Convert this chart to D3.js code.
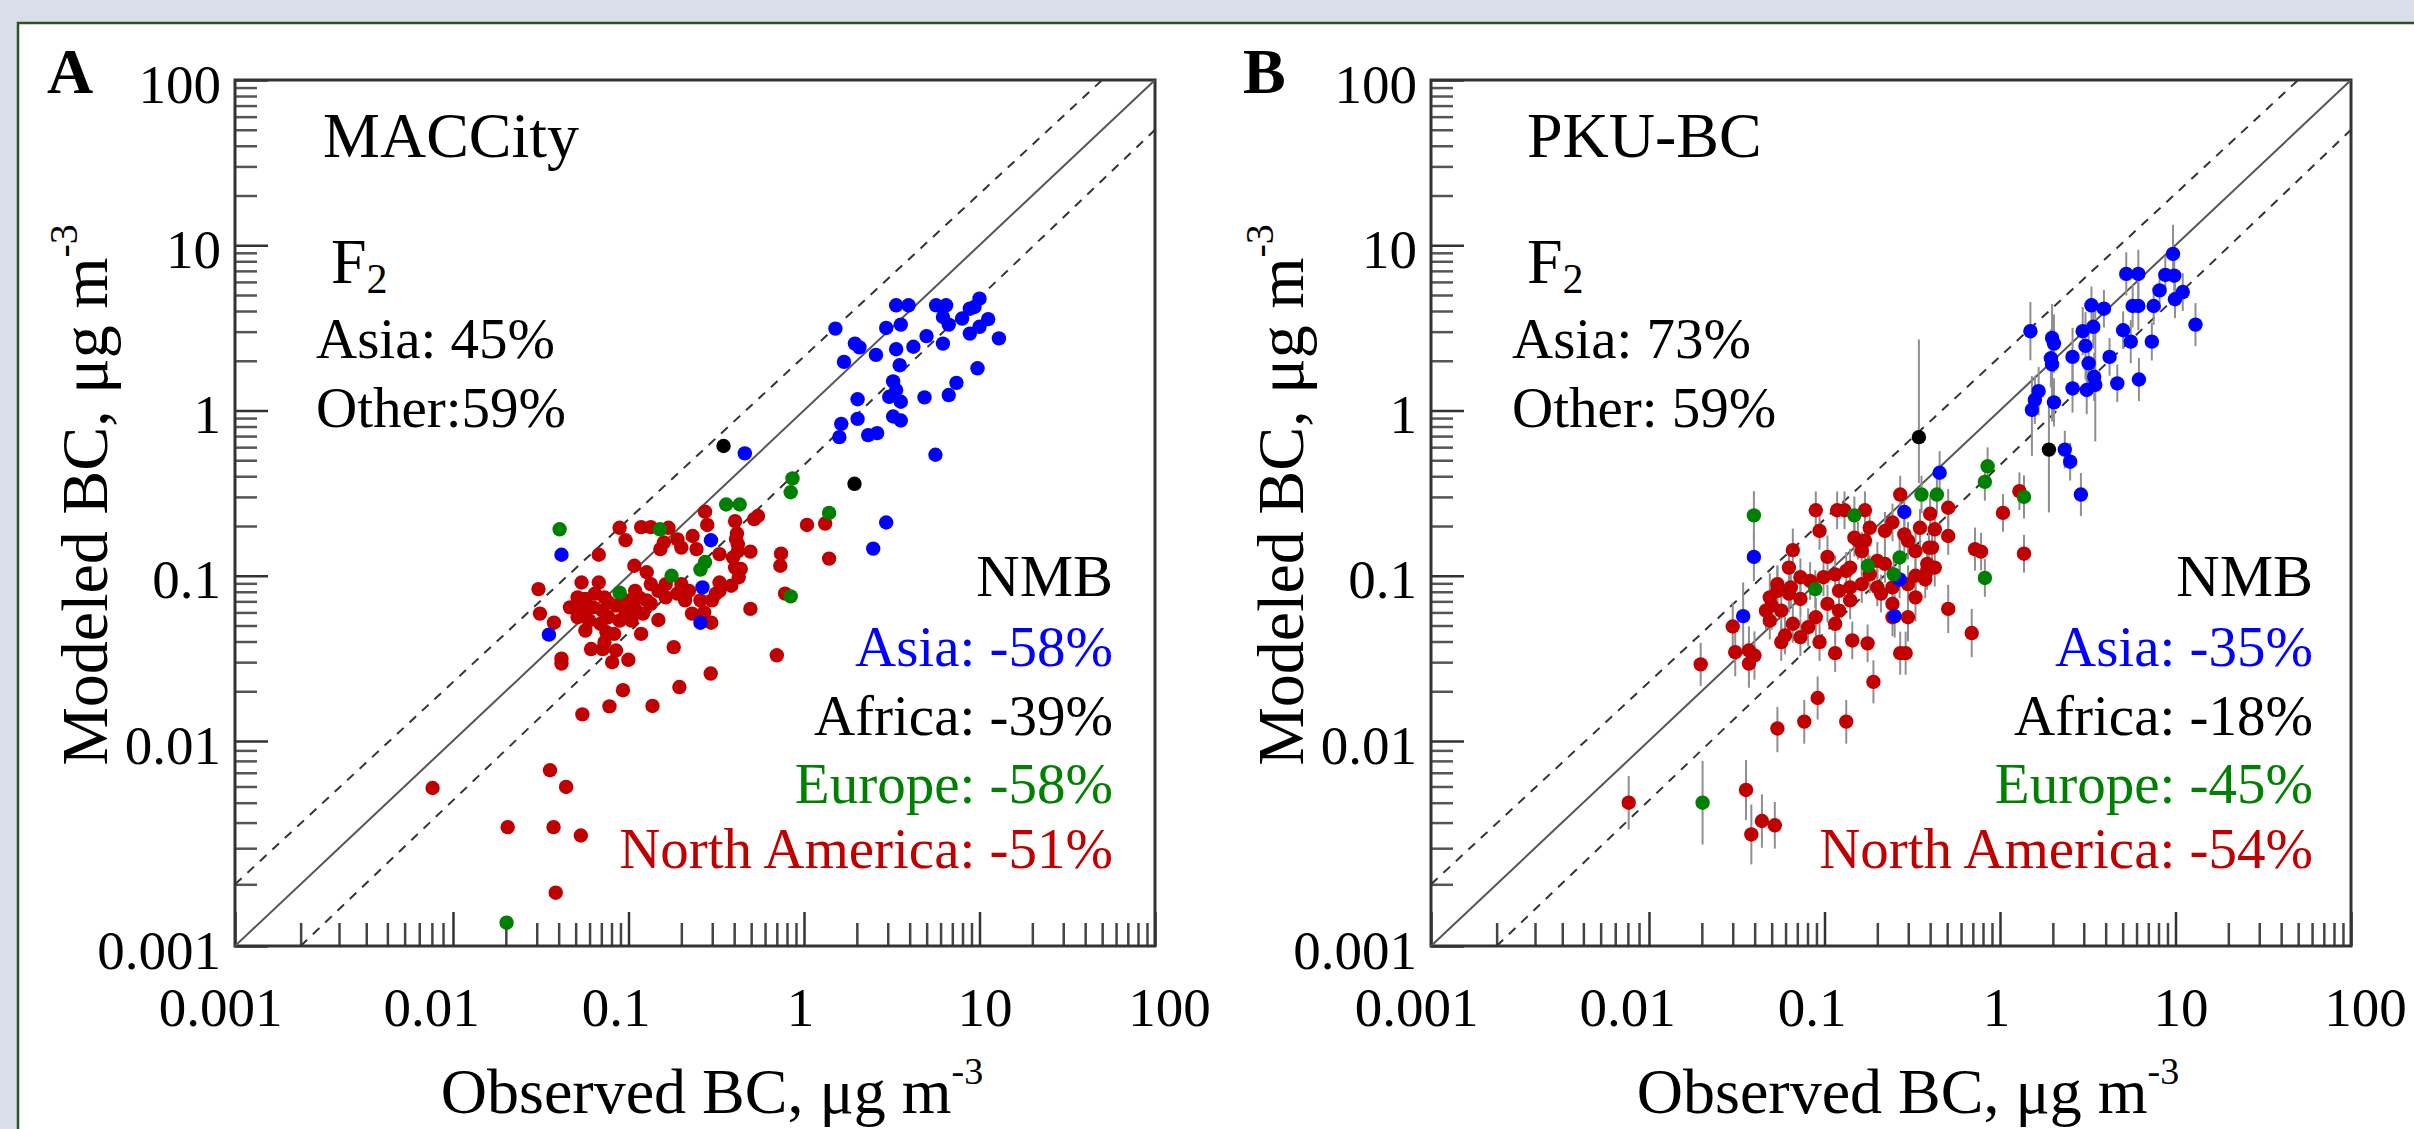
<!DOCTYPE html>
<html>
<head>
<meta charset="utf-8">
<script src="https://d3js.org/d3.v7.min.js"></script>
<style>
body { margin: 0; background: #d9dee8; }
svg { display: block; font-family: "Liberation Serif", "Times New Roman", serif; }
</style>
</head>
<body>
<svg id="chart" width="2414" height="1129"></svg>
<script>
// axis ticks and labels
var decadeTicks = [0.001, 0.01, 0.1, 1, 10, 100];
var decadeLabels = ["0.001", "0.01", "0.1", "1", "10", "100"];

// panel texts
var panelLetters = ["A", "B"];
var inventories = ["MACCity", "PKU-BC"];
var f2Asia = ["Asia: 45%", "Asia: 73%"];
var f2Other = ["Other:59%", "Other: 59%"];
var nmbRegions = ["Asia", "Africa", "Europe", "North America"];
var nmbA = [-58, -39, -58, -51];
var nmbB = [-35, -18, -45, -54];

// panel A: [observed, modeled]
var asiaA = [[1.51,3.13],[1.69,1.97],[1.95,2.54],[2.07,2.41],[2.57,2.17],[2.94,3.16],[3.35,4.33],[3.94,4.33],
  [3.56,3.31],[3.35,2.35],[3.51,1.88],[4.20,2.43],[4.99,2.82],[5.66,4.33],[6.45,4.33],[6.19,3.68],[6.68,3.31],
  [6.19,2.54],[7.96,3.60],[8.81,4.13],[10.0,4.75],[9.36,4.23],[11.2,3.57],[8.81,2.92],[10.0,3.21],[12.9,2.73],
  [9.74,1.80],[7.39,1.47],[6.68,1.24],[4.86,1.20],[3.22,1.50],[3.35,1.33],[3.06,1.21],[3.56,1.13],[2.02,1.17],
  [2.02,0.89],[1.63,0.83],[1.59,0.69],[2.32,0.71],[2.61,0.73],[3.22,0.92],[3.56,0.87],[5.61,0.54],[0.46,0.55],
  [2.94,0.21],[2.48,0.146],[0.295,0.164],[0.264,0.085],[0.257,0.052],[0.0415,0.134],[0.0352,0.044]];
var africaA = [[0.348,0.61],[1.94,0.36]];
var europeA = [[0.86,0.388],[0.84,0.32],[0.36,0.27],[0.43,0.27],[1.39,0.24],[0.0405,0.191],[0.151,0.191],
  [0.273,0.121],[0.257,0.109],[0.176,0.100],[0.089,0.079],[0.84,0.075],[0.0202,0.0013]];
var northAmericaA = [[0.273,0.244],[0.281,0.203],[0.405,0.214],[0.52,0.22],[0.547,0.23],[1.04,0.203],[1.32,0.207],
  [1.39,0.127],[0.74,0.136],[0.733,0.115],[0.78,0.078],[0.495,0.14],[0.495,0.063],[0.70,0.033],[0.415,0.18],
  [0.42,0.155],[0.436,0.11],[0.089,0.195],[0.0962,0.164],[0.118,0.197],[0.134,0.197],[0.169,0.195],[0.0677,0.134],
  [0.0307,0.083],[0.0313,0.059],[0.0376,0.052],[0.0415,0.0315],[0.0415,0.0294],[0.0546,0.0145],[0.0779,0.0162],
  [0.093,0.0203],[0.137,0.0163],[0.195,0.0212],[0.294,0.0256],[0.181,0.037],[0.0998,0.031],[0.0807,0.030],
  [0.0612,0.036],[0.0712,0.036],[0.0849,0.0353],[0.118,0.0445],[0.148,0.054],[0.108,0.115],[0.127,0.105],
  [0.152,0.145],[0.159,0.159],[0.19,0.166],[0.232,0.174],[0.244,0.145],[0.2,0.148],[0.33,0.135],[0.394,0.129],
  [0.405,0.112],[0.425,0.098],[0.385,0.087],[0.33,0.091],[0.315,0.078],[0.299,0.071],[0.23,0.059],[0.296,0.052],
  [0.221,0.081],[0.2,0.089],[0.163,0.089],[0.148,0.081],[0.134,0.089],[0.109,0.081],[0.127,0.071],[0.109,0.063],
  [0.0962,0.059],[0.0849,0.066],[0.073,0.074],[0.0677,0.091],[0.054,0.091],[0.0513,0.074],[0.0488,0.0644],
  [0.0553,0.0615],[0.0628,0.0644],[0.0597,0.0535],[0.0694,0.0512],[0.0749,0.0455],[0.073,0.0397],[0.0768,0.0561],
  [0.089,0.0535],[0.104,0.0535],[0.121,0.059],[0.134,0.0676],[0.163,0.074],[0.19,0.078],[0.21,0.071],[0.257,0.071],
  [0.27,0.060],[0.33,0.081],[0.0828,0.0445],[0.0357,0.0072],[0.0441,0.00597],[0.0205,0.0038],[0.0374,0.0038],
  [0.0535,0.00346],[0.0385,0.00182],[0.00806,0.0059],[0.41,0.167],[0.42,0.141],
  [0.0464,0.0644],[0.0568,0.0724],[0.0644,0.078],[0.0768,0.069],[0.0962,0.071],[0.115,0.074],[0.104,0.0676],
  [0.0513,0.0561],[0.0712,0.0615],[0.0568,0.0466]];

// panel B: [observed, modeled, error factor up, error factor down (optional)]
var asiaB = [[9.68,8.87,1.5],[5.24,6.71,1.35],[6.14,6.71,1.4],[8.75,6.62,1.3],[9.84,6.55,1.3],[8.11,5.33,1.3],
  [11.0,5.21,1.3],[9.93,4.71,1.3],[3.32,4.33,1.3],[3.91,4.13,1.3],[5.70,4.29,1.35],[6.14,4.29,1.4],[7.51,4.29,1.3],
  [1.49,3.02,1.5],[2.96,3.02,1.4],[3.40,3.21,1.35],[1.98,2.75,1.6,3.2],[2.03,2.54,1.5],[5.03,3.06,1.3],
  [5.56,2.61,1.35],[7.33,2.61,1.3],[13.0,3.31,1.35],[3.07,2.46,1.6],[2.59,2.11,1.5],[1.95,2.07,1.5],[1.98,1.90,1.5],
  [3.20,1.93,1.5],[4.21,2.11,1.3],[3.44,1.60,1.4],[3.49,1.43,2.9,2.2],[3.12,1.33,1.4],[2.59,1.36,1.4],
  [4.66,1.46,1.3],[6.19,1.54,1.35],[1.66,1.31,1.4],[1.58,1.16,1.4],[1.52,1.01,1.6,1.9],[2.03,1.12,1.4],
  [2.34,0.58,1.3],[2.51,0.49,1.3],[2.89,0.31,1.35],[0.453,0.42,1.35],[0.285,0.243,1.3],[0.268,0.095,1.3],
  [0.251,0.057,1.35],[0.0396,0.130,1.4],[0.0344,0.057,1.6]];
var africaB = [[0.345,0.69,3.9,1.9],[1.90,0.58,2.0,2.4]];
var europeB = [[0.85,0.46,1.3],[0.82,0.37,1.3],[0.357,0.31,1.3],[0.437,0.31,1.3],[1.37,0.30,1.35],
  [0.0396,0.232,1.4],[0.148,0.232,1.3],[0.268,0.129,1.4],[0.177,0.115,1.3],[0.0886,0.083,1.3],[0.82,0.097,1.3],
  [0.248,0.102,1.3],[0.0202,0.005,1.6]];
var northAmericaB = [[0.27,0.31,1.3],[1.29,0.325,1.3],[1.04,0.24,1.3],[1.37,0.136,1.3],[0.72,0.145,1.35],
  [0.78,0.14,1.3],[0.507,0.063,1.4],[0.69,0.045,1.4],[0.507,0.174,1.3],[0.507,0.258,1.3],[0.40,0.237,1.3],
  [0.425,0.191,1.3],[0.425,0.112,1.3],[0.394,0.148,1.3],[0.375,0.095,1.3],[0.33,0.074,1.4],[0.299,0.0561,1.4],
  [0.27,0.034,1.35],[0.29,0.034,1.35],[0.19,0.0228,1.35],[0.133,0.0131,1.35],[0.0914,0.0182,1.35],
  [0.0767,0.0131,1.35],[0.0539,0.0119,1.35],[0.176,0.039,1.3],[0.144,0.0406,1.3],[0.115,0.034,1.3],
  [0.0892,0.249,1.3],[0.0937,0.187,1.3],[0.118,0.249,1.3],[0.130,0.249,1.3],[0.17,0.249,1.3],[0.066,0.143,1.35],
  [0.104,0.130,1.35],[0.0627,0.112,1.35],[0.03,0.0493,1.4],[0.0197,0.0291,1.35],[0.031,0.0345,1.4],
  [0.0371,0.0353,1.4],[0.0399,0.0329,1.4],[0.0371,0.0294,1.4],[0.0488,0.074,1.4],[0.0539,0.081,1.4],
  [0.05,0.066,1.4],[0.0567,0.0615,1.4],[0.0627,0.078,1.3],[0.0729,0.0724,1.3],[0.0643,0.085,1.3],
  [0.0729,0.098,1.3],[0.0828,0.093,1.3],[0.0987,0.098,1.3],[0.115,0.102,1.3],[0.133,0.107,1.3],[0.121,0.081,1.3],
  [0.104,0.0676,1.3],[0.0892,0.0561,1.3],[0.0807,0.0488,1.3],[0.0729,0.0425,1.3],[0.0937,0.0397,1.3],
  [0.0567,0.0397,1.3],[0.066,0.0512,1.3],[0.0596,0.0435,1.3],[0.0488,0.0535,1.3],[0.0464,0.0615,1.3],
  [0.0539,0.089,1.3],[0.148,0.17,1.3],[0.181,0.195,1.3],[0.221,0.187,1.3],[0.244,0.21,1.3],[0.163,0.141,1.3],
  [0.2,0.123,1.3],[0.14,0.112,1.3],[0.181,0.102,1.3],[0.221,0.118,1.3],[0.299,0.163,1.3],[0.33,0.141,1.3],
  [0.299,0.089,1.3],[0.244,0.085,1.3],[0.21,0.078,1.3],[0.244,0.0676,1.3],[0.2,0.085,1.3],[0.163,0.089,1.3],
  [0.14,0.085,1.3],[0.121,0.0615,1.3],[0.14,0.071,1.3],[0.115,0.0512,1.3],[0.244,0.0561,1.3],[0.33,0.1,1.3],
  [0.384,0.107,1.3],[0.00807,0.005,1.35],[0.0357,0.00577,1.4],[0.044,0.00407,1.35],[0.0521,0.00388,1.3],
  [0.0383,0.0035,1.4],[0.155,0.163,1.3],[0.17,0.163,1.3],[0.285,0.178,1.3],[0.35,0.195,1.3],[0.41,0.148,1.3],
  [0.385,0.118,1.3]];

var w = 2414, h = 1129;
var plotLeft = 235, plotRight = 1155, plotTop = 80, plotBottom = 946;
var panelShift = 1196;

var red = "#c00000", blue = "#0000ff", green = "#008000", black = "#000000";
var nmbColors = [blue, black, green, red];

// the figure's first decade is drawn wider than the others, so the scales
// are piecewise-linear in log10 units
var xLog = d3.scaleLinear().domain([-3, -2, 2]).range([plotLeft, 453, plotRight]);
var yLog = d3.scaleLinear().domain([-3, -2, 2]).range([plotBottom, 741, plotTop]);
var xLabelLog = d3.scaleLinear().domain([-3, -2, 2]).range([220, 431, 1169]);
function xScale(v) { return xLog(Math.log10(v)); }
function yScale(v) { return yLog(Math.log10(v)); }

var majorLog = decadeTicks.map(Math.log10);
var minorLog = [];
decadeTicks.slice(0, 5).forEach(function(d) {
  for (var k = 2; k <= 9; k++) minorLog.push(Math.log10(d * k));
});

var svg = d3.select("#chart");
svg.append("rect").attr("width", w).attr("height", h).attr("fill", "#d9dee8");
svg.append("rect").attr("x", 18).attr("y", 23).attr("width", w).attr("height", h)
  .attr("fill", "white").attr("stroke", "#2a552a").attr("stroke-width", 2.5);

function styleTicks(a, color) {
  a.select(".domain").remove();
  a.selectAll("line").attr("stroke", color).attr("stroke-width", 2.5);
}

function drawPanel(i, series, withErrors, nmbValues) {
  var g = svg.append("g").attr("transform", "translate(" + (i * panelShift) + ",0)");

  // minor ticks
  g.append("g").attr("transform", "translate(" + plotLeft + ",0)")
    .call(d3.axisLeft(yLog).tickValues(minorLog).tickSizeInner(-22).tickSizeOuter(0).tickFormat(""))
    .call(styleTicks, "#555");
  g.append("g").attr("transform", "translate(0," + plotBottom + ")")
    .call(d3.axisBottom(xLog).tickValues(minorLog).tickSizeInner(-23).tickSizeOuter(0).tickFormat(""))
    .call(styleTicks, "#444");

  // major ticks with labels
  g.append("g").attr("transform", "translate(" + plotLeft + ",0)")
    .call(d3.axisLeft(yLog).tickValues(majorLog).tickSizeInner(-33).tickSizeOuter(0).tickPadding(14)
      .tickFormat(function(d, j) { return decadeLabels[j]; }))
    .call(styleTicks, "#333")
    .call(function(a) {
      a.selectAll("text").attr("font-size", 55).attr("fill", "#000").attr("dy", "0.40em");
    });
  g.append("g").attr("transform", "translate(0," + plotBottom + ")")
    .call(d3.axisBottom(xLog).tickValues(majorLog).tickSizeInner(-34).tickSizeOuter(0).tickPadding(41)
      .tickFormat(function(d, j) { return decadeLabels[j]; }))
    .call(styleTicks, "#333")
    .call(function(a) {
      a.selectAll("text").attr("font-size", 55).attr("fill", "#000")
        .attr("x", function(d) { return xLabelLog(d) - xLog(d); });
    });
  g.selectAll(".tick text").attr("font-family", "Liberation Serif, Times New Roman, serif");

  // frame
  g.append("rect").attr("x", plotLeft).attr("y", plotTop)
    .attr("width", plotRight - plotLeft).attr("height", plotBottom - plotTop)
    .attr("fill", "none").attr("stroke", "#333").attr("stroke-width", 3);

  // 1:1 and 1:2 / 2:1 lines
  var refLines = [
    { a: [0.001, 0.001], b: [100, 100], dash: null, color: "#555" },
    { a: [0.001, 0.002], b: [50, 100], dash: "9,8", color: "#333" },
    { a: [0.002, 0.001], b: [100, 50], dash: "9,8", color: "#333" }
  ];
  g.selectAll(".ref").data(refLines).enter().append("line")
    .attr("x1", function(d) { return xScale(d.a[0]); }).attr("y1", function(d) { return yScale(d.a[1]); })
    .attr("x2", function(d) { return xScale(d.b[0]); }).attr("y2", function(d) { return yScale(d.b[1]); })
    .attr("stroke", function(d) { return d.color; }).attr("stroke-width", 2)
    .attr("stroke-dasharray", function(d) { return d.dash; });

  // error bars (panel B)
  if (withErrors) {
    series.forEach(function(s) {
      g.selectAll(null).data(s.data).enter().append("line")
        .attr("x1", function(d) { return xScale(d[0]); }).attr("x2", function(d) { return xScale(d[0]); })
        .attr("y1", function(d) { return yScale(d[1] * d[2]); })
        .attr("y2", function(d) { return yScale(d[1] / (d[3] || d[2])); })
        .attr("stroke", "#8f8f8f").attr("stroke-width", 2);
    });
  }

  series.forEach(function(s) {
    g.selectAll(null).data(s.data).enter().append("circle")
      .attr("cx", function(d) { return xScale(d[0]); })
      .attr("cy", function(d) { return yScale(d[1]); })
      .attr("r", 7.2)
      .attr("fill", s.color);
  });

  // labels
  g.append("text").attr("x", 47).attr("y", 93).attr("font-size", 64).attr("font-weight", "bold").text(panelLetters[i]);
  g.append("text").attr("x", 323 + i * 8).attr("y", 157).attr("font-size", 64).text(inventories[i]);
  var f = g.append("text").attr("x", 331).attr("y", 283).attr("font-size", 64);
  f.append("tspan").text("F");
  f.append("tspan").attr("font-size", 42).attr("dy", 10).text("2");
  g.append("text").attr("x", 316).attr("y", 358).attr("font-size", 57).text(f2Asia[i]);
  g.append("text").attr("x", 316).attr("y", 427).attr("font-size", 57).text(f2Other[i]);

  var nmbX = 1113 + i * 4;
  g.append("text").attr("x", nmbX).attr("y", 596).attr("text-anchor", "end").attr("font-size", 60).text("NMB");
  var nmbY = [666, 735, 803, 868];
  nmbRegions.forEach(function(r, j) {
    g.append("text").attr("x", nmbX).attr("y", nmbY[j]).attr("text-anchor", "end")
      .attr("font-size", 57).attr("fill", nmbColors[j]).text(r + ": " + nmbValues[j] + "%");
  });

  // axis titles
  var yt = g.append("text").attr("transform", "translate(107,495) rotate(-90)")
    .attr("text-anchor", "middle").attr("font-size", 66);
  yt.append("tspan").text("Modeled BC, \u03bcg m");
  yt.append("tspan").attr("font-size", 40).attr("dy", -30).text("-3");

  var xt = g.append("text").attr("x", 712).attr("y", 1113).attr("text-anchor", "middle").attr("font-size", 64);
  xt.append("tspan").text("Observed BC, \u03bcg m");
  xt.append("tspan").attr("font-size", 38).attr("dy", -29).text("-3");
}

drawPanel(0, [
  { data: northAmericaA, color: red },
  { data: asiaA, color: blue },
  { data: europeA, color: green },
  { data: africaA, color: black }
], false, nmbA);

drawPanel(1, [
  { data: northAmericaB, color: red },
  { data: asiaB, color: blue },
  { data: europeB, color: green },
  { data: africaB, color: black }
], true, nmbB);
</script>
</body>
</html>
